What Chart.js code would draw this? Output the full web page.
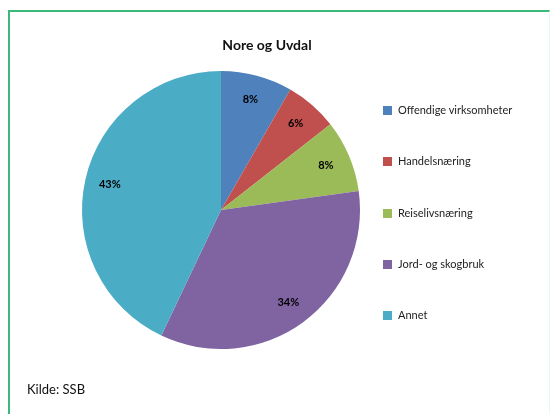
<!DOCTYPE html>
<html>
<head>
<meta charset="utf-8">
<script src="https://cdn.jsdelivr.net/npm/chart.js@4"></script>
<style>
  html, body { margin: 0; padding: 0; background: #fff; }
  body { width: 555px; height: 414px; position: relative; overflow: hidden; font-family: Lato, "Open Sans", sans-serif; }
  #frame { position: absolute; left: 8px; top: 10px; width: 539px; height: 420px;
           border-top: 2px solid #3cb878; border-left: 2px solid #3cb878; border-right: 1px solid #e6f8f8; }
  #chart { position: absolute; left: 0; top: 0; }
  #title { position: absolute; left: 167px; width: 200px; top: 36px; text-align: center;
           font-weight: bold; font-size: 14px; color: #111; }
  #legend { position: absolute; left: 383px; top: 0; }
  .item { position: absolute; left: 0; white-space: nowrap; font-size: 11px; color: #222; line-height: 12px; }
  .item span { display: inline-block; width: 9px; height: 9px; margin-right: 6px; vertical-align: -1px; }
  #source { position: absolute; left: 27px; top: 381px; font-size: 13px; color: #111; }
</style>
</head>
<body>
<div id="frame"></div>
<canvas id="chart" width="555" height="414"></canvas>
<div id="title">Nore og Uvdal</div>
<div id="legend"></div>
<div id="source">Kilde: SSB</div>
<script>
// shares (percent)
const labels = ['Offendige virksomheter', 'Handelsnæring', 'Reiselivsnæring', 'Jord- og skogbruk', 'Annet'];
const values = [8.3, 6.1, 8.4, 34.2, 42.9];
const colors = ['#4f81bd', '#c0504d', '#9bbb59', '#8064a2', '#4bacc6'];

// legend built from the same arrays
const legend = document.getElementById('legend');
labels.forEach((name, i) => {
    const div = document.createElement('div');
    div.className = 'item';
    div.style.top = (104 + i * 51.25) + 'px';
    div.innerHTML = '<span style="background:' + colors[i] + '"></span>' + name;
    legend.appendChild(div);
});

const pctLabels = {
    id: 'pctLabels',
    afterDatasetsDraw(chart) {
        const ctx = chart.ctx;
        const data = chart.data.datasets[0].data;
        const total = data.reduce((a, b) => a + b, 0);
        ctx.save();
        ctx.font = 'bold 11px Lato, sans-serif';
        ctx.fillStyle = '#000';
        ctx.textAlign = 'center';
        ctx.textBaseline = 'middle';
        chart.getDatasetMeta(0).data.forEach((arc, i) => {
            const p = arc.getProps(['x', 'y', 'startAngle', 'endAngle', 'outerRadius'], true);
            const mid = (p.startAngle + p.endAngle) / 2;
            const r = p.outerRadius * 0.82;
            ctx.fillText(Math.round(data[i] / total * 100) + '%', p.x + Math.cos(mid) * r, p.y + Math.sin(mid) * r);
        });
        ctx.restore();
    }
};

new Chart(document.getElementById('chart').getContext('2d'), {
    type: 'pie',
    data: {
        labels: labels,
        datasets: [{
            data: values,
            backgroundColor: colors,
            borderWidth: 0
        }]
    },
    options: {
        responsive: false,
        animation: false,
        layout: { padding: { left: 82, right: 195, top: 71, bottom: 65 } },
        plugins: {
            legend: { display: false },
            title: { display: false },
            tooltip: { enabled: false }
        }
    },
    plugins: [pctLabels]
});
</script>
</body>
</html>
